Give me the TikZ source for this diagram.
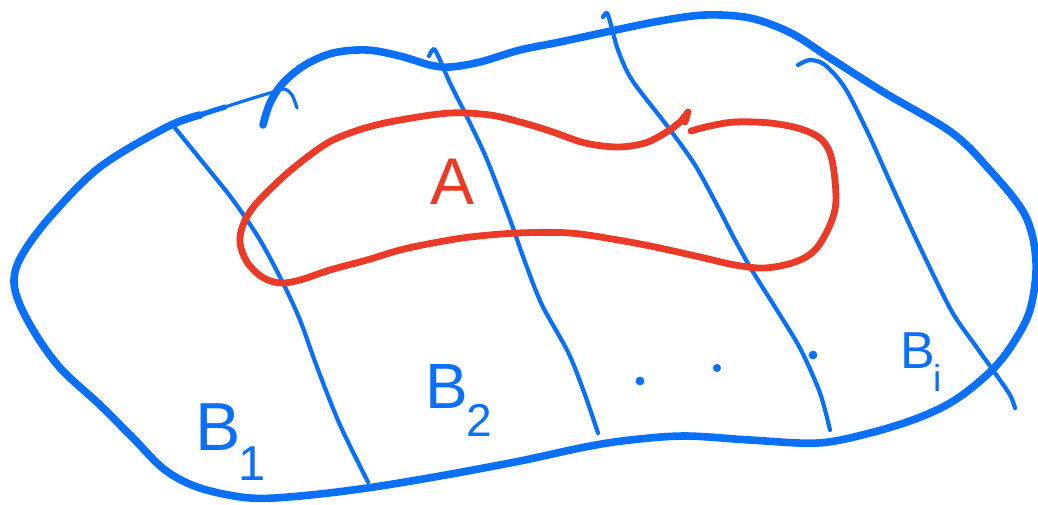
\documentclass[tikz,border=0pt]{standalone}
\usepackage{fontspec}
\setmainfont{Liberation Sans}
\usepackage{tikz}
\usetikzlibrary{positioning}
\definecolor{skBlue}{RGB}{10,112,250}
\definecolor{skRed}{RGB}{235,58,40}
\newcommand{\partlbl}[1]{B\kern-1pt\raisebox{-0.45em}{\scalebox{0.72}{#1}}}

\begin{document}
\begin{tikzpicture}[
      x=0.5pt, y=-0.5pt,
      outline/.style={draw=skBlue, line width=3.8pt, line cap=round, line join=round},
      thinend/.style={draw=skBlue, line width=1.6pt, line cap=round},
      part/.style={draw=skBlue, line width=2.1pt, line cap=round, line join=round},
      event/.style={draw=skRed, line width=3.4pt, line cap=round, line join=round},
      blbl/.style={text=skBlue, anchor=base west, inner sep=0pt},
      albl/.style={text=skRed, anchor=base west, inner sep=0pt, font=\fontsize{33}{33}\selectfont}
    ]
      \useasboundingbox (0,0) rectangle (1038,504);
      % sample space
      \draw[outline] plot[smooth, tension=0.55] coordinates {(263,125) (270,103) (283,83) (305,65) (333,53) (367,50) (400,56) (430,65) (450,67) (480,62) (520,50) (560,42) (611,31) (660,21) (705,15) (750,18) (791,33) (830,58) (885,93) (951,132) (988,168) (1025,215) (1036,262) (1030,310) (1012,345) (990,372) (955,400) (918,418) (870,433) (818,443) (750,440) (685,436) (630,440) (585,447) (520,461) (440,476) (367,488) (300,496) (250,498) (200,488) (165,470) (133,438) (100,405) (62,370) (38,338) (20,305) (14,280) (22,255) (50,217) (100,167) (167,127) (200,115)};
      \draw[draw=skBlue, line width=2.6pt, line cap=round] plot[smooth] coordinates {(167,127) (200,115) (225,107)};
      \draw[thinend] plot[smooth] coordinates {(225,107) (250,99) (270,93) (284,89) (292,95) (297,108)};
      % partition
      \draw[part] plot[smooth] coordinates {(175,128) (205,165) (233,200) (260,240) (283,283) (300,320) (317,367) (340,425) (368,482)};
      \draw[part] plot[smooth] coordinates {(429,56) (434,49) (440,60) (450,83) (467,117) (485,155) (500,193) (512,225) (525,262) (542,305) (568,352) (584,392) (598,433)};
      \draw[part] plot[smooth] coordinates {(603,17) (607,13) (611,25) (618,50) (632,80) (668,127) (695,165) (718,207) (735,240) (753,272) (780,315) (801,350) (820,393) (830,430)};
      \draw[part] plot[smooth] coordinates {(798,65) (810,60) (825,65) (845,88) (868,133) (895,193) (918,243) (951,310) (975,345) (995,373) (1010,395) (1015,408)};
      % event A
      \draw[event] plot[smooth, tension=0.55] coordinates {(691,131) (710,126) (735,122) (770,123) (801,129) (822,140) (832,160) (836,200) (830,225) (815,250) (795,262) (765,268) (735,265) (700,257) (655,247) (618,240) (570,233) (518,233) (470,237) (433,243) (400,250) (367,260) (330,270) (300,280) (280,283) (262,277) (247,262) (240,243) (243,225) (255,205) (283,177) (310,155) (333,140) (365,128) (400,120) (450,113) (490,115) (520,122) (550,131) (585,143) (618,147) (645,143) (665,133) (680,122) (688,112)} -- (685,122);
      % labels
      \node[albl] (lblA) at (430,204) {A};
      \node[blbl, font=\fontsize{34}{34}\selectfont] (lblB1) at (195,450) {\partlbl{1}};
      \node[blbl, font=\fontsize{32}{32}\selectfont] (lblB2) at (425,408) {\partlbl{2}};
      \node[blbl, font=\fontsize{26}{26}\selectfont] (lblBi) at (900,368) {\partlbl{i}};
      \fill[skBlue] (640,381) circle (2.2pt) (717,368) circle (2pt) (813,355) circle (2.2pt);
    \end{tikzpicture}
\end{document}
